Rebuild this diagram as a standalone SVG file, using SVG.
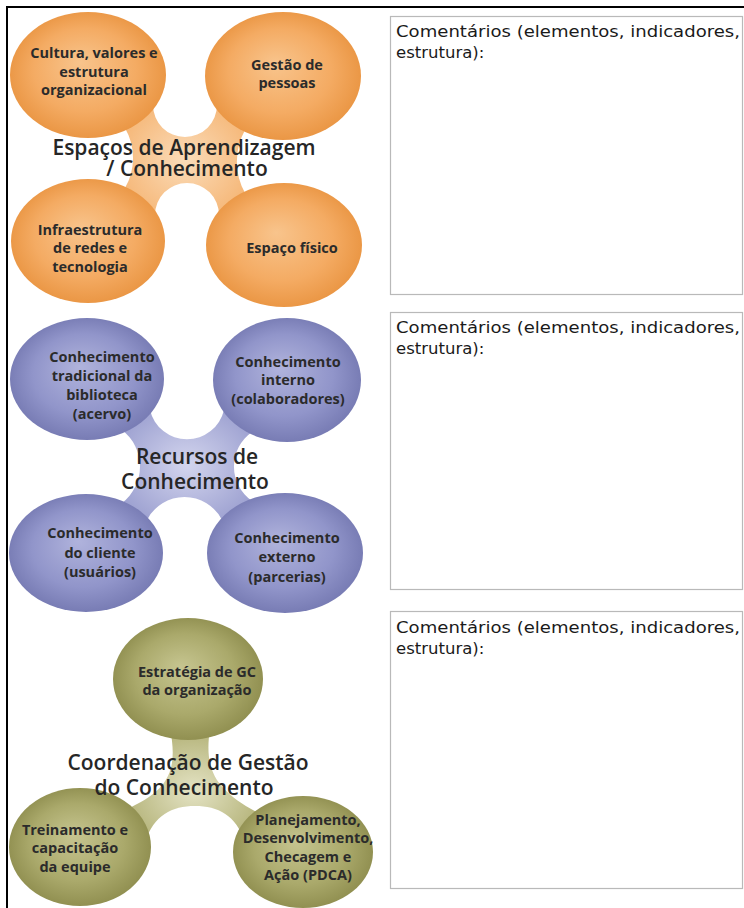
<svg xmlns="http://www.w3.org/2000/svg" width="744" height="908" viewBox="0 0 744 908">
  <style>
    .frame { stroke: #000; stroke-width: 2; fill: none; }
    .box { fill: #fff; stroke: #b9b9b9; stroke-width: 1.2; }
    .note { font-family: "DejaVu Sans", "Liberation Sans", sans-serif; font-size: 16.5px; fill: #1a1a1a; }
    .lbl { font-family: "Open Sans", "Liberation Sans", sans-serif; font-weight: 700; font-size: 14.5px; fill: #2b2b2b; text-anchor: middle; }
    .title { font-family: "Open Sans", "Liberation Sans", sans-serif; font-weight: 600; font-size: 21px; fill: #262626; text-anchor: middle; }
    .o { fill: url(#gOrange); }
    .b { fill: url(#gBlue); }
    .v { fill: url(#gOlive); }
  </style>
  <defs>
    <radialGradient id="gOrange" cx="0.5" cy="0.5" r="0.55" fx="0.45" fy="0.4">
      <stop offset="0" stop-color="#f8c48c"/>
      <stop offset="0.6" stop-color="#f4ab63"/>
      <stop offset="1" stop-color="#e8923e"/>
    </radialGradient>
    <radialGradient id="gBlue" cx="0.5" cy="0.5" r="0.55" fx="0.45" fy="0.4">
      <stop offset="0" stop-color="#b0b3dc"/>
      <stop offset="0.6" stop-color="#9195ca"/>
      <stop offset="1" stop-color="#7276af"/>
    </radialGradient>
    <radialGradient id="gOlive" cx="0.5" cy="0.5" r="0.55" fx="0.45" fy="0.4">
      <stop offset="0" stop-color="#c6c590"/>
      <stop offset="0.6" stop-color="#aaa96b"/>
      <stop offset="1" stop-color="#8b8a4b"/>
    </radialGradient>
    <radialGradient id="hOrange" cx="0.5" cy="0.5" r="0.6">
      <stop offset="0" stop-color="#fbdcb9"/>
      <stop offset="1" stop-color="#f5b676"/>
    </radialGradient>
    <radialGradient id="hBlue" cx="0.5" cy="0.5" r="0.6">
      <stop offset="0" stop-color="#d3d5ee"/>
      <stop offset="1" stop-color="#9ca0d0"/>
    </radialGradient>
    <radialGradient id="hOlive" cx="0.5" cy="0.55" r="0.6">
      <stop offset="0" stop-color="#e4e3c4"/>
      <stop offset="1" stop-color="#aead70"/>
    </radialGradient>
  </defs>

  <rect width="744" height="908" fill="#fff"/>

  <!-- page frame: top and left rules -->
  <path class="frame" d="M7,908 V7 H744"/>

  <!-- comment boxes -->
  <g id="comments1">
    <rect class="box" x="390.5" y="16.5" width="352" height="278"/>
    <text class="note" x="396" y="37" textLength="344" lengthAdjust="spacingAndGlyphs">Comentários (elementos, indicadores,</text>
    <text class="note" x="396" y="58">estrutura):</text>
  </g>
  <g id="comments2">
    <rect class="box" x="390.5" y="312.5" width="352" height="277"/>
    <text class="note" x="396" y="333" textLength="344" lengthAdjust="spacingAndGlyphs">Comentários (elementos, indicadores,</text>
    <text class="note" x="396" y="354">estrutura):</text>
  </g>
  <g id="comments3">
    <rect class="box" x="390.5" y="611.5" width="352" height="277"/>
    <text class="note" x="396" y="633" textLength="344" lengthAdjust="spacingAndGlyphs">Comentários (elementos, indicadores,</text>
    <text class="note" x="396" y="654">estrutura):</text>
  </g>

  <!-- hubs joining each cluster of circles -->
  <g id="connectors">
    <path fill="url(#hOrange)" d="M125,128 L140,105 L153,105 A32 32 0 0 0 217,105 L235,105 L245,130 A65 65 0 0 0 245,193 L235,215 L219,215 A32 32 0 0 0 155,215 L140,215 L125,188 A60 60 0 0 0 125,128 Z"/>
    <path fill="url(#hBlue)" d="M122,430 L135,410 L150,410 A38 38 0 0 0 224,410 L240,410 L252,432 A42 42 0 0 0 252,501 L240,520 L222,520 A42 42 0 0 0 147,520 L135,520 L122,503 A46 46 0 0 0 122,430 Z"/>
    <path fill="url(#hOlive)" d="M170,728 L210,728 C204,770 214,790 262,815 L245,842 C236,815 218,806 195,806 C172,806 154,815 145,842 L125,810 C170,790 178,770 170,728 Z"/>
  </g>

  <!-- Espaços de Aprendizagem / Conhecimento -->
  <g id="n-cultura">
    <ellipse class="o" cx="88" cy="75" rx="78" ry="63"/>
    <text class="lbl" x="94" y="58">Cultura, valores e</text>
    <text class="lbl" x="94" y="77">estrutura</text>
    <text class="lbl" x="94" y="95">organizacional</text>
  </g>
  <g id="n-pessoas">
    <ellipse class="o" cx="283" cy="76" rx="78" ry="64"/>
    <text class="lbl" x="287" y="70">Gestão de</text>
    <text class="lbl" x="287" y="88">pessoas</text>
  </g>
  <g id="n-infra">
    <ellipse class="o" cx="88" cy="241" rx="77" ry="62"/>
    <text class="lbl" x="90" y="235">Infraestrutura</text>
    <text class="lbl" x="90" y="253">de redes e</text>
    <text class="lbl" x="90" y="272">tecnologia</text>
  </g>
  <g id="n-espaco">
    <ellipse class="o" cx="284" cy="245" rx="78" ry="62"/>
    <text class="lbl" x="292" y="253">Espaço físico</text>
  </g>
  <g id="t-espacos">
    <text class="title" x="184" y="155">Espaços de Aprendizagem</text>
    <text class="title" x="187" y="176">/ Conhecimento</text>
  </g>

  <!-- Recursos de Conhecimento -->
  <g id="n-biblioteca">
    <ellipse class="b" cx="87" cy="379" rx="77" ry="61"/>
    <text class="lbl" x="102" y="362">Conhecimento</text>
    <text class="lbl" x="102" y="381">tradicional da</text>
    <text class="lbl" x="102" y="400">biblioteca</text>
    <text class="lbl" x="102" y="419">(acervo)</text>
  </g>
  <g id="n-interno">
    <ellipse class="b" cx="287" cy="380" rx="74" ry="62"/>
    <text class="lbl" x="288" y="367">Conhecimento</text>
    <text class="lbl" x="288" y="385">interno</text>
    <text class="lbl" x="288" y="404">(colaboradores)</text>
  </g>
  <g id="n-cliente">
    <ellipse class="b" cx="86" cy="553" rx="77" ry="59"/>
    <text class="lbl" x="100" y="538">Conhecimento</text>
    <text class="lbl" x="100" y="558">do cliente</text>
    <text class="lbl" x="100" y="577">(usuários)</text>
  </g>
  <g id="n-externo">
    <ellipse class="b" cx="285" cy="553" rx="78" ry="60"/>
    <text class="lbl" x="287" y="543">Conhecimento</text>
    <text class="lbl" x="287" y="562">externo</text>
    <text class="lbl" x="287" y="582">(parcerias)</text>
  </g>
  <g id="t-recursos">
    <text class="title" x="197" y="464">Recursos de</text>
    <text class="title" x="195" y="489">Conhecimento</text>
  </g>

  <!-- Coordenação de Gestão do Conhecimento -->
  <g id="n-estrategia">
    <ellipse class="v" cx="188" cy="679" rx="75" ry="61"/>
    <text class="lbl" x="197" y="677">Estratégia de GC</text>
    <text class="lbl" x="197" y="695">da organização</text>
  </g>
  <g id="n-treinamento">
    <ellipse class="v" cx="80" cy="847" rx="71" ry="59"/>
    <text class="lbl" x="75" y="835">Treinamento e</text>
    <text class="lbl" x="75" y="853">capacitação</text>
    <text class="lbl" x="75" y="872">da equipe</text>
  </g>
  <g id="n-pdca">
    <ellipse class="v" cx="303" cy="852" rx="70" ry="56"/>
    <text class="lbl" x="308" y="825">Planejamento,</text>
    <text class="lbl" x="308" y="843">Desenvolvimento,</text>
    <text class="lbl" x="308" y="862">Checagem e</text>
    <text class="lbl" x="308" y="880">Ação (PDCA)</text>
  </g>
  <g id="t-coordenacao">
    <text class="title" x="188" y="770">Coordenação de Gestão</text>
    <text class="title" x="184" y="795">do Conhecimento</text>
  </g>
</svg>
